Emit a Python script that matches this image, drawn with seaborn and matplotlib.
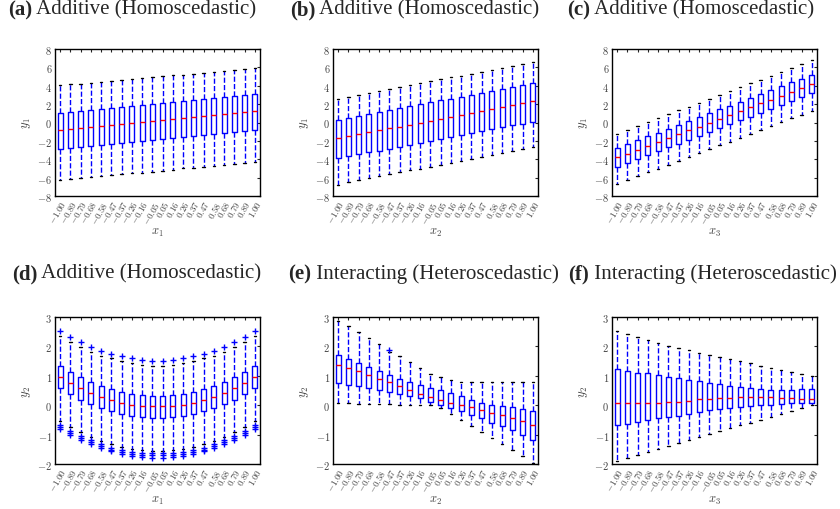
import numpy as np
import pandas as pd
import matplotlib
matplotlib.use("Agg")
import matplotlib.pyplot as plt
import seaborn as sns

# x positions (category labels shared by all panels)
x_labels = ["-1.00", "-0.89", "-0.79", "-0.68", "-0.58", "-0.47", "-0.37", "-0.26", "-0.16", "-0.05",
            "0.05", "0.16", "0.26", "0.37", "0.47", "0.58", "0.68", "0.79", "0.89", "1.00"]

# (a) y1 vs x1
a_lo = [-6.25, -6.15, -6.05, -5.95, -5.85, -5.75, -5.65, -5.55, -5.45, -5.35,
        -5.25, -5.12, -5.00, -4.90, -4.80, -4.70, -4.60, -4.50, -4.40, -4.30]
a_q1 = [-2.85, -2.75, -2.65, -2.55, -2.45, -2.33, -2.22, -2.12, -2.01, -1.90,
        -1.80, -1.68, -1.58, -1.48, -1.37, -1.26, -1.16, -1.05, -0.95, -0.85]
a_med = [-0.78, -0.66, -0.55, -0.44, -0.33, -0.23, -0.12, -0.01, 0.10, 0.21,
         0.32, 0.43, 0.54, 0.65, 0.76, 0.86, 0.97, 1.08, 1.18, 1.28]
a_q3 = [1.05, 1.15, 1.25, 1.37, 1.48, 1.58, 1.68, 1.79, 1.90, 2.00,
        2.10, 2.21, 2.32, 2.42, 2.53, 2.63, 2.74, 2.85, 2.95, 3.05]
a_hi = [4.05, 4.15, 4.22, 4.32, 4.42, 4.52, 4.62, 4.72, 4.82, 4.92,
        5.02, 5.12, 5.22, 5.32, 5.42, 5.52, 5.62, 5.72, 5.85, 5.98]

# (b) y1 vs x2
b_lo = [-6.75, -6.52, -6.30, -6.08, -5.86, -5.64, -5.43, -5.22, -5.01, -4.80,
        -4.59, -4.38, -4.17, -3.96, -3.75, -3.54, -3.33, -3.12, -2.91, -2.70]
b_q1 = [-3.85, -3.64, -3.45, -3.25, -3.05, -2.84, -2.63, -2.42, -2.21, -2.00,
        -1.79, -1.58, -1.37, -1.16, -0.95, -0.74, -0.53, -0.32, -0.11, 0.10]
b_med = [-1.70, -1.49, -1.28, -1.07, -0.86, -0.65, -0.44, -0.23, -0.02, 0.19,
         0.40, 0.61, 0.82, 1.03, 1.24, 1.45, 1.66, 1.87, 2.08, 2.29]
b_q3 = [0.30, 0.51, 0.72, 0.93, 1.14, 1.35, 1.56, 1.77, 1.98, 2.19,
        2.40, 2.61, 2.82, 3.03, 3.24, 3.45, 3.66, 3.87, 4.08, 4.29]
b_hi = [2.60, 2.80, 3.00, 3.22, 3.43, 3.64, 3.85, 4.06, 4.27, 4.48,
        4.69, 4.90, 5.10, 5.31, 5.52, 5.73, 5.94, 6.15, 6.36, 6.57]

# (c) y1 vs x3
c_lo = [-6.70, -6.28, -5.86, -5.44, -5.02, -4.60, -4.18, -3.76, -3.34, -2.92,
        -2.50, -2.08, -1.66, -1.24, -0.82, -0.40, 0.02, 0.44, 0.86, 1.28]
c_q1 = [-4.82, -4.40, -3.98, -3.56, -3.14, -2.72, -2.30, -1.88, -1.46, -1.04,
        -0.62, -0.20, 0.22, 0.64, 1.06, 1.48, 1.90, 2.32, 2.74, 3.16]
c_med = [-3.80, -3.38, -2.96, -2.54, -2.12, -1.70, -1.28, -0.86, -0.44, -0.02,
         0.40, 0.82, 1.24, 1.66, 2.08, 2.50, 2.92, 3.34, 3.76, 4.18]
c_q3 = [-2.78, -2.36, -1.94, -1.52, -1.10, -0.68, -0.26, 0.16, 0.58, 1.00,
        1.42, 1.84, 2.26, 2.68, 3.10, 3.52, 3.94, 4.36, 4.78, 5.20]
c_hi = [-1.20, -0.80, -0.38, 0.04, 0.47, 0.90, 1.32, 1.74, 2.16, 2.58,
        3.00, 3.42, 3.84, 4.26, 4.68, 5.10, 5.52, 5.94, 6.36, 6.78]

# (d) y2 vs x1 (symmetric U shape)
d_lo = [-0.55, -0.75, -0.92, -1.08, -1.22, -1.33, -1.42, -1.48, -1.52, -1.55,
        -1.55, -1.52, -1.48, -1.42, -1.33, -1.22, -1.08, -0.92, -0.75, -0.55]
d_q1 = [0.57, 0.37, 0.19, 0.04, -0.09, -0.20, -0.29, -0.36, -0.40, -0.42,
        -0.42, -0.40, -0.36, -0.29, -0.20, -0.09, 0.04, 0.19, 0.37, 0.57]
d_med = [0.96, 0.76, 0.58, 0.42, 0.28, 0.18, 0.09, 0.02, -0.02, -0.04,
         -0.04, -0.02, 0.02, 0.09, 0.18, 0.28, 0.42, 0.58, 0.76, 0.96]
d_q3 = [1.33, 1.13, 0.95, 0.79, 0.66, 0.56, 0.46, 0.39, 0.35, 0.32,
        0.32, 0.35, 0.39, 0.46, 0.56, 0.66, 0.79, 0.95, 1.13, 1.33]
d_hi = [2.36, 2.16, 1.99, 1.82, 1.69, 1.59, 1.50, 1.43, 1.38, 1.35,
        1.35, 1.38, 1.43, 1.50, 1.59, 1.69, 1.82, 1.99, 2.16, 2.36]
d_fly_top = [2.52, 2.32, 2.15, 1.99, 1.85, 1.74, 1.66, 1.59, 1.54, 1.52,
             1.52, 1.54, 1.59, 1.66, 1.74, 1.85, 1.99, 2.15, 2.32, 2.52]
d_fly_low1 = [-0.68, -0.88, -1.05, -1.20, -1.33, -1.44, -1.52, -1.58, -1.62, -1.64,
              -1.64, -1.62, -1.58, -1.52, -1.44, -1.33, -1.20, -1.05, -0.88, -0.68]
d_fly_low2 = [-0.74, -0.94, -1.11, -1.26, -1.40, -1.51, -1.59, -1.65, -1.69, -1.71,
              -1.71, -1.69, -1.65, -1.59, -1.51, -1.40, -1.26, -1.11, -0.94, -0.74]
d_fly_low3 = [-0.80, -1.00, -1.17, -1.32, -1.46, -1.57, -1.66, -1.72, -1.76, -1.78,
              -1.78, -1.76, -1.72, -1.66, -1.57, -1.46, -1.32, -1.17, -1.00, -0.80]

# (e) y2 vs x2
e_lo = [0.07, 0.06, 0.05, 0.04, 0.04, 0.03, 0.02, 0.01, 0.01, 0.00,
        -0.10, -0.30, -0.50, -0.70, -0.92, -1.12, -1.32, -1.53, -1.73, -1.95]
e_q1 = [0.76, 0.70, 0.65, 0.58, 0.52, 0.45, 0.38, 0.31, 0.23, 0.12,
        0.02, -0.08, -0.20, -0.33, -0.45, -0.59, -0.71, -0.86, -1.02, -1.18]
e_med = [1.38, 1.25, 1.16, 1.03, 0.90, 0.78, 0.66, 0.52, 0.38, 0.27,
         0.17, 0.08, 0.00, -0.07, -0.16, -0.25, -0.34, -0.43, -0.54, -0.66]
e_q3 = [1.72, 1.58, 1.45, 1.29, 1.15, 1.03, 0.90, 0.80, 0.70, 0.60,
        0.51, 0.40, 0.30, 0.19, 0.08, 0.00, -0.04, -0.07, -0.13, -0.19]
e_hi = [2.88, 2.68, 2.48, 2.28, 2.08, 1.82, 1.68, 1.47, 1.27, 1.06,
        0.95, 0.85, 0.80, 0.80, 0.80, 0.80, 0.80, 0.80, 0.80, 0.80]
e_fly_x = ["-0.47"]
e_fly_y = [1.88]

# (f) y2 vs x3
f_lo = [-1.90, -1.80, -1.70, -1.60, -1.50, -1.39, -1.29, -1.19, -1.09, -0.99,
        -0.89, -0.79, -0.69, -0.59, -0.49, -0.39, -0.29, -0.19, -0.09, 0.00]
f_q1 = [-0.68, -0.63, -0.57, -0.51, -0.45, -0.40, -0.37, -0.30, -0.24, -0.18,
        -0.13, -0.09, -0.05, -0.02, 0.01, 0.02, 0.04, 0.06, 0.07, 0.08]
f_med = [0.09, 0.09, 0.08, 0.08, 0.08, 0.10, 0.12, 0.15, 0.20, 0.21,
         0.23, 0.26, 0.28, 0.28, 0.27, 0.27, 0.26, 0.24, 0.21, 0.21]
f_q3 = [1.23, 1.17, 1.11, 1.08, 1.03, 0.97, 0.91, 0.86, 0.81, 0.76,
        0.71, 0.67, 0.62, 0.58, 0.55, 0.53, 0.53, 0.53, 0.56, 0.56]
f_hi = [2.52, 2.42, 2.32, 2.22, 2.12, 2.03, 1.95, 1.87, 1.79, 1.71,
        1.64, 1.56, 1.49, 1.42, 1.35, 1.28, 1.20, 1.13, 1.06, 0.99]

titles = [("(a)", "Additive (Homoscedastic)"), ("(b)", "Additive (Homoscedastic)"),
          ("(c)", "Additive (Homoscedastic)"), ("(d)", "Additive (Homoscedastic)"),
          ("(e)", "Interacting (Heteroscedastic)"), ("(f)", "Interacting (Heteroscedastic)")]
xlabels = ["$x_1$", "$x_2$", "$x_3$", "$x_1$", "$x_2$", "$x_3$"]
ylabels = ["$y_1$", "$y_1$", "$y_1$", "$y_2$", "$y_2$", "$y_2$"]

cats = ["$" + s + "$" for s in x_labels]


def long_frame(lo, q1, med, q3, hi):
    # five points per box -> quartiles fall exactly on q1/med/q3, whiskers at min/max
    rows = []
    for lab, vals in zip(cats, zip(lo, q1, med, q3, hi)):
        for v in vals:
            rows.append((lab, v))
    return pd.DataFrame(rows, columns=["x", "y"])


panels = [
    long_frame(a_lo, a_q1, a_med, a_q3, a_hi),
    long_frame(b_lo, b_q1, b_med, b_q3, b_hi),
    long_frame(c_lo, c_q1, c_med, c_q3, c_hi),
    long_frame(d_lo, d_q1, d_med, d_q3, d_hi),
    long_frame(e_lo, e_q1, e_med, e_q3, e_hi),
    long_frame(f_lo, f_q1, f_med, f_q3, f_hi),
]

fliers = [None, None, None,
          pd.DataFrame({"x": cats * 4,
                        "y": d_fly_top + d_fly_low1 + d_fly_low2 + d_fly_low3}),
          pd.DataFrame({"x": ["$" + s + "$" for s in e_fly_x], "y": e_fly_y}),
          None]

sns.set_style("white")
plt.rcParams["mathtext.fontset"] = "cm"
plt.rcParams["font.family"] = ["Liberation Serif", "DejaVu Serif"]

fig = plt.figure(figsize=(8.4, 5.1), dpi=100)

lefts = [55, 333, 612]
tops = [50, 318]
w_px, h_px = 205, 147
title_x = [8, 290, 567, 12, 288, 568]
title_y = [10, 274]

for i, df in enumerate(panels):
    r, c = divmod(i, 3)
    ax = fig.add_axes([lefts[c] / 840, 1 - (tops[r] + h_px) / 510, w_px / 840, h_px / 510])
    sns.boxplot(data=df, x="x", y="y", order=cats, ax=ax, whis=(0, 100),
                showfliers=False, fill=False, width=0.5, color="blue", linewidth=1.0,
                boxprops=dict(color="blue", linewidth=1.0),
                whiskerprops=dict(color="blue", linestyle="--", linewidth=1.0),
                capprops=dict(color="black", linewidth=1.0),
                medianprops=dict(color="red", linewidth=1.0))
    if fliers[i] is not None:
        sns.stripplot(data=fliers[i], x="x", y="y", order=cats, ax=ax, jitter=False,
                      marker="+", color="blue", size=4, linewidth=1.0)
    if r == 0:
        ax.set_ylim(-8, 8)
        yt = [-8, -6, -4, -2, 0, 2, 4, 6, 8]
    else:
        ax.set_ylim(-2, 3)
        yt = [-2, -1, 0, 1, 2, 3]
    ax.set_yticks(yt)
    ax.set_yticklabels(["$%d$" % t for t in yt], fontsize=7.5, color="#444444")
    ax.set_xlim(-0.5, len(cats) - 0.5)
    ax.set_xticks(range(len(cats)))
    ax.set_xticklabels(cats, rotation=60, ha="right", rotation_mode="anchor",
                       fontsize=6.5, color="#444444")
    ax.tick_params(direction="in", top=True, right=True, length=2.5, width=0.8, pad=2)
    for sp in ax.spines.values():
        sp.set_color("black")
        sp.set_linewidth(1.0)
    ax.set_xlabel(xlabels[i], fontsize=9, color="#444444", labelpad=0)
    ax.set_ylabel(ylabels[i], fontsize=9, color="#444444", labelpad=3)

    t = fig.text(title_x[i] / 840, 1 - title_y[r] / 510, titles[i][0], fontsize=15,
                 fontweight="bold", ha="left", va="center")
    ax.annotate(" " + titles[i][1], xy=(1, 0.5), xycoords=t, fontsize=15,
                ha="left", va="center", annotation_clip=False)

fig.savefig("out.png", dpi=100)
